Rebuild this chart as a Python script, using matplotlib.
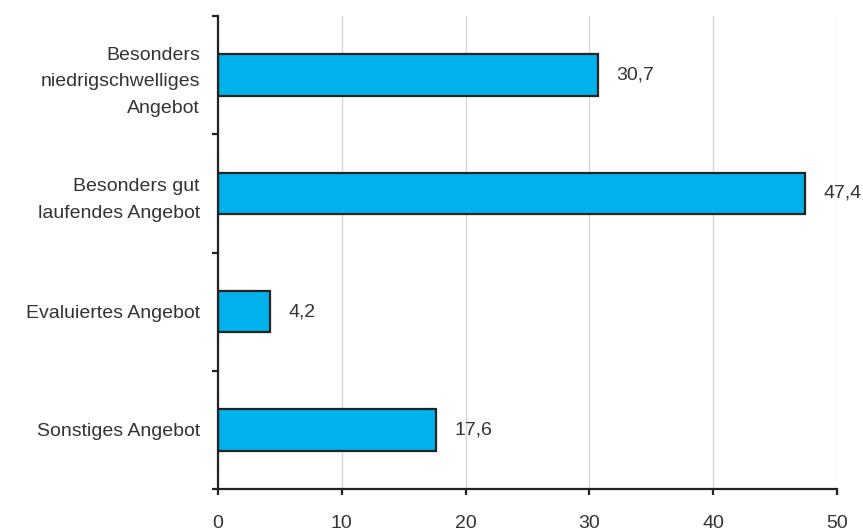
import matplotlib
matplotlib.use("Agg")
import matplotlib.pyplot as plt
import numpy as np

categories = ["Besonders\nniedrigschwelliges\nAngebot",
              "Besonders gut\nlaufendes Angebot",
              "Evaluiertes Angebot",
              "Sonstiges Angebot"]
values = [30.7, 47.4, 4.2, 17.6]
value_labels = ["30,7", "47,4", "4,2", "17,6"]
xticks = [0, 10, 20, 30, 40, 50]

plt.rcParams['font.family'] = ['Liberation Sans', 'DejaVu Sans']
text_color = "#333333"
dark = "#222222"

fig = plt.figure(figsize=(8.63, 5.31), dpi=100)
ax = fig.add_axes([218/863, 42/531, (837-218)/863, (489-16)/531])

n = len(categories)
ypos = np.arange(n)[::-1] + 0.5
ax.barh(ypos, values, height=0.35, color="#00B2EB", edgecolor=dark, linewidth=1.6, zorder=3)

for y, v, lab in zip(ypos, values, value_labels):
    ax.text(v + 1.5, y, lab, va="center", ha="left", fontsize=14, color=text_color)

ax.set_xlim(0, 50)
ax.set_ylim(0, n)
ax.set_xticks(xticks)
ax.set_xticklabels([str(t) for t in xticks], fontsize=14, color=text_color)
ax.tick_params(axis="x", length=4, width=1.6, color=dark, pad=15, direction="out")

ax.set_yticks(ypos)
ax.set_yticklabels(categories, fontsize=14, color=text_color, ha="right",
                   multialignment="right", linespacing=1.75)
ax.tick_params(axis="y", which="major", length=0, pad=13)
ax.set_yticks(np.arange(n + 1), minor=True)
ax.tick_params(axis="y", which="minor", length=4, width=1.6, color=dark, direction="out")

ax.grid(axis="x", color="#d4d4d4", linewidth=0.9, zorder=0)
ax.set_axisbelow(True)
for s in ["top", "right"]:
    ax.spines[s].set_visible(False)
for s in ["left", "bottom"]:
    ax.spines[s].set_color(dark)
    ax.spines[s].set_linewidth(1.6)
    ax.spines[s].set_zorder(4)

fig.savefig("out.png", dpi=100)
